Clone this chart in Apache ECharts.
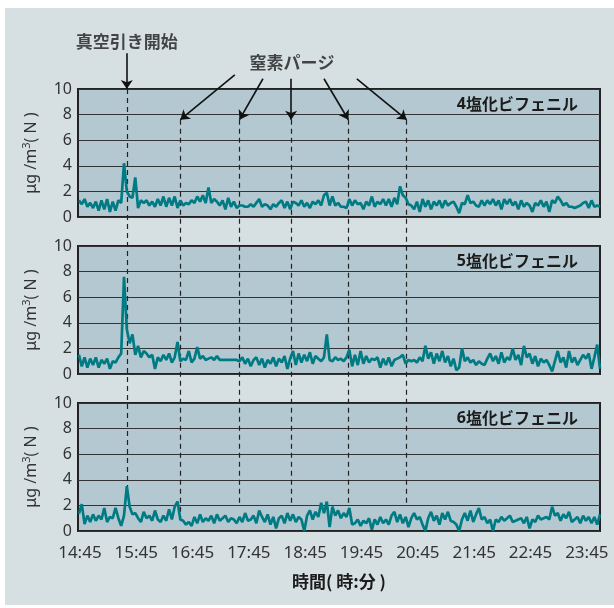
<!DOCTYPE html>
<html>
<head>
<meta charset="utf-8">
<script src="https://cdn.jsdelivr.net/npm/echarts@6/dist/echarts.min.js"></script>
<style>
  html, body { margin: 0; padding: 0; background: #ffffff; }
  #chart { width: 614px; height: 608px; }
</style>
</head>
<body>
<div id="chart"></div>
<script>
// Clock labels on the time axis (one per hour, starting 14:45)
const TICK_LABELS = ['14:45', '15:45', '16:45', '17:45', '18:45', '19:45', '20:45', '21:45', '22:45', '23:45'];

// Samples: minutes after 14:45 of the first reading, and spacing between readings
const SAMPLE_START = -1;
const SAMPLE_STEP = 3;

// Concentrations, μg/m³(N)
const tetraCB = [
  1.3, 1.0, 1.4, 0.8, 1.1, 0.7, 1.2, 0.5, 1.3, 0.6,
  1.4, 0.4, 1.2, 0.5, 1.3, 1.1, 4.2, 2.0, 1.6, 1.5,
  3.1, 0.7, 1.3, 1.1, 1.3, 0.9, 1.2, 0.8, 1.4, 0.9,
  1.6, 0.8, 1.5, 0.9, 1.6, 0.7, 1.3, 0.9, 1.1, 1.0,
  1.3, 1.1, 1.6, 1.2, 1.7, 1.1, 2.3, 1.1, 1.4, 1.2,
  0.9, 1.3, 0.6, 1.5, 0.8, 1.2, 0.7, 0.9, 0.9, 0.8,
  0.8, 1.0, 0.8, 1.1, 1.4, 0.8, 1.0, 0.9, 0.6, 1.0,
  0.8, 1.1, 1.3, 0.7, 1.2, 0.6, 1.2, 1.1, 0.9, 1.3,
  0.8, 1.1, 0.7, 1.2, 1.0, 1.3, 0.9, 1.7, 1.9, 0.9,
  1.6, 0.9, 1.1, 0.8, 0.8, 0.7, 1.4, 0.9, 1.3, 1.0,
  1.1, 0.6, 1.2, 0.9, 1.6, 0.8, 1.2, 1.0, 1.4, 0.9,
  1.4, 0.8, 1.5, 1.0, 2.4, 1.7, 1.5, 1.0, 0.9, 0.6,
  1.2, 0.4, 1.4, 0.8, 1.3, 0.6, 1.2, 0.9, 1.3, 0.7,
  1.3, 0.9, 1.1, 1.2, 0.8, 0.3, 1.1, 1.0, 1.7, 1.1,
  1.2, 0.9, 0.8, 1.3, 0.9, 1.3, 1.0, 1.4, 0.9, 1.3,
  0.6, 1.4, 1.0, 1.4, 0.9, 1.2, 0.6, 1.3, 0.8, 1.1,
  0.9, 0.4, 1.1, 0.9, 1.3, 0.8, 1.2, 0.4, 1.3, 1.1,
  1.6, 1.3, 0.9, 1.1, 0.8, 0.8, 0.7, 0.8, 0.9, 1.1,
  1.2, 0.7, 1.3, 0.8, 0.9, 0.8
];
const pentaCB = [
  1.5, 0.6, 1.3, 0.5, 1.2, 0.7, 1.3, 0.5, 1.1, 0.8,
  1.2, 0.4, 1.0, 0.9, 1.3, 1.6, 7.6, 3.5, 2.4, 3.1,
  1.5, 2.2, 1.3, 1.8, 1.6, 1.3, 1.5, 0.4, 1.3, 1.0,
  1.5, 1.1, 1.6, 0.9, 1.3, 2.5, 1.0, 1.2, 1.1, 1.8,
  0.9, 1.2, 2.1, 1.2, 1.4, 1.1, 1.2, 1.3, 1.1, 1.4,
  1.1, 1.1, 1.1, 1.1, 1.1, 1.1, 1.1, 1.0, 1.3, 0.8,
  1.2, 0.6, 1.1, 1.3, 0.7, 1.2, 0.5, 1.1, 0.8, 1.3,
  0.6, 1.2, 0.9, 1.4, 0.4, 1.2, 1.8, 0.7, 1.6, 0.9,
  1.5, 1.0, 1.7, 0.8, 1.4, 1.2, 1.0, 1.3, 3.1, 1.1,
  1.0, 1.3, 1.1, 1.2, 1.0, 1.3, 1.9, 0.6, 1.5, 0.7,
  1.8, 0.8, 1.4, 0.9, 1.2, 1.1, 1.3, 0.5, 1.2, 0.7,
  1.3, 0.6, 1.1, 1.2, 1.3, 1.5, 0.8, 1.1, 1.0, 1.1,
  0.9, 1.3, 1.0, 2.2, 1.2, 1.7, 0.8, 1.6, 1.0, 1.8,
  0.9, 1.4, 0.6, 1.2, 0.3, 0.5, 2.0, 1.0, 1.3, 0.9,
  1.1, 0.7, 1.0, 0.8, 0.7, 1.2, 1.6, 1.0, 1.4, 0.8,
  1.7, 0.9, 1.3, 1.1, 2.0, 1.1, 1.5, 0.7, 2.2, 1.3,
  1.6, 0.8, 1.4, 0.6, 1.2, 0.9, 1.1, 0.7, 0.2, 1.0,
  1.8, 0.9, 1.3, 0.5, 1.8, 0.9, 1.3, 0.7, 1.1, 1.5,
  1.2, 1.6, 0.4, 1.3, 2.3, 0.4
];
const hexaCB = [
  1.35, 2.1, 0.55, 1.2, 0.7, 1.3, 0.8, 1.2, 0.9, 1.8,
  0.7, 1.1, 1.0, 1.8, 1.0, 0.4, 1.2, 3.5, 1.9, 1.3,
  1.4, 1.0, 0.7, 1.5, 1.0, 1.2, 0.8, 1.6, 0.9, 0.7,
  1.2, 0.8, 1.7, 0.9, 1.9, 2.3, 0.9, 0.8, 0.5, 0.7,
  0.4, 1.1, 0.6, 1.3, 0.7, 1.0, 0.8, 1.2, 0.6, 1.3,
  0.8, 1.0, 1.2, 0.7, 1.0, 0.9, 0.6, 1.1, 0.7, 1.4,
  0.8, 0.9, 1.2, 0.6, 1.6, 1.1, 0.7, 1.3, 0.5, 1.1,
  0.2, 1.0, 1.2, 0.6, 1.4, 0.8, 1.3, 0.7, 1.1, 0.9,
  0.0, 1.2, 1.6, 0.9, 1.5, 1.1, 2.2, 1.4, 2.3, 0.3,
  1.9, 1.2, 1.6, 1.0, 1.4, 1.1, 1.8, 0.5, 0.6, 0.9,
  0.4, 0.8, 0.6, 1.0, 0.1, 0.9, 0.5, 1.1, 0.6, 0.9,
  0.5, 1.2, 1.5, 0.7, 1.3, 0.6, 1.1, 0.3, 1.0, 1.4,
  0.9, 1.1, 0.5, 0.0, 1.0, 1.5, 0.8, 1.2, 0.5, 1.4,
  0.9, 1.5, 0.8, 0.7, 0.5, 0.0, 0.9, 1.4, 0.8, 1.6,
  0.7, 1.3, 1.8, 0.9, 1.1, 0.6, 0.9, 0.0, 0.9, 0.7,
  1.1, 0.8, 1.0, 1.2, 0.7, 0.8, 0.9, 1.0, 0.6, 1.1,
  0.2, 0.9, 0.7, 1.2, 0.9, 1.0, 1.1, 0.9, 1.9, 1.2,
  1.4, 0.8, 1.3, 1.0, 1.5, 0.7, 0.9, 1.1, 0.6, 1.2,
  0.8, 1.1, 0.6, 1.1, 0.5, 1.3
];

const PANEL_SERIES = [tetraCB, pentaCB, hexaCB];
const PANEL_PREFIX = ['4', '5', '6'];
const PANEL_SUFFIX = '塩化ビフェニル';

// Events, minutes after 14:45
const VACUUM_START = 50;
const N2_PURGE = [107, 170, 225, 286, 348];
// Where the event guides stop inside the lowest panel (its value scale)
const VACUUM_GUIDE_END = 3.5;
const N2_GUIDE_END = [1.0, 2.2, 2.2, 2.2, 2.2];

// ---- layout ----
const X_MIN = -2, X_MAX = 554;
const PLOT_LEFT = 78, PLOT_RIGHT = 14;
const PANEL_H = 128, PANEL_GAP = 29, FIRST_TOP = 89;
const panelTops = [0, 1, 2].map(k => FIRST_TOP + k * (PANEL_H + PANEL_GAP));
const plotBottom = panelTops[2] + PANEL_H;
const OVERLAY_TOP = 20;
const unitPx = PANEL_H / 10;
const overlayMax = (plotBottom - OVERLAY_TOP) / unitPx;
// value v of panel k expressed on the full-height overlay scale
const ov = (k, v) => (2 - k) * (PANEL_H + PANEL_GAP) / unitPx + v;

const FONT = "'Noto Sans', 'Noto Sans CJK JP', sans-serif";
const CJK = "'Noto Sans CJK JP', sans-serif";
const INK = '#1c1c1c';

const grids = panelTops.map(top => ({
  left: PLOT_LEFT, right: PLOT_RIGHT, top: top, height: PANEL_H,
  show: true, backgroundColor: '#b3c8d0', borderColor: '#222', borderWidth: 2
}));
grids.push({ left: PLOT_LEFT, right: PLOT_RIGHT, top: OVERLAY_TOP, height: plotBottom - OVERLAY_TOP });

const xAxes = [0, 1, 2].map(k => ({
  gridIndex: k, type: 'value', min: X_MIN, max: X_MAX,
  splitLine: { show: false }, axisLine: { show: false }, axisTick: { show: false },
  axisLabel: k === 2 ? {
    customValues: TICK_LABELS.map((_, j) => j * 60),
    formatter: v => TICK_LABELS[Math.round(v / 60)],
    fontSize: 17, color: '#333', margin: 14, fontFamily: FONT
  } : { show: false },
  name: k === 2 ? '時間( 時:分 )' : '',
  nameLocation: 'middle', nameGap: 42,
  nameTextStyle: { fontSize: 17, fontWeight: 'bold', color: INK, fontFamily: CJK }
}));
xAxes.push({ gridIndex: 3, type: 'value', min: X_MIN, max: X_MAX, show: false });

const yAxes = [0, 1, 2].map(k => ({
  gridIndex: k, type: 'value', min: 0, max: 10, interval: 2,
  splitLine: { show: true, lineStyle: { color: '#333', width: 1 } },
  axisLine: { show: false }, axisTick: { show: false },
  axisLabel: { fontSize: 16, color: '#333', margin: 6, fontFamily: FONT },
  name: '{a|μg /m}{s|3}{a|( N )}', nameLocation: 'middle', nameGap: 37,
  nameTextStyle: {
    fontSize: 16, color: '#333', fontFamily: FONT,
    rich: {
      a: { fontSize: 16, color: '#333', fontFamily: FONT, lineHeight: 20 },
      s: { fontSize: 11, color: '#333', fontFamily: FONT, verticalAlign: 'top', lineHeight: 20 }
    }
  }
}));
yAxes.push({ gridIndex: 3, type: 'value', min: 0, max: overlayMax, show: false });

const traceSeries = PANEL_SERIES.map((vals, k) => ({
  type: 'line', xAxisIndex: k, yAxisIndex: k, z: 5,
  symbol: 'none', silent: true, animation: false,
  lineStyle: { color: '#007b83', width: 2.7, join: 'bevel' },
  data: vals.map((v, i) => [SAMPLE_START + i * SAMPLE_STEP, v])
}));

// dashed guides through all three panels
const guides = [[{ coord: [VACUUM_START, ov(0, 10)] }, { coord: [VACUUM_START, ov(2, VACUUM_GUIDE_END)] }]]
  .concat(N2_PURGE.map((t, j) => [{ coord: [t, ov(0, 7.6)] }, { coord: [t, ov(2, N2_GUIDE_END[j])] }]));

// annotation arrows (start x for the purge arrows fans out from the label)
const PURGE_ARROW_FROM = [165, 195, 225, 260, 295];
const arrows = [[{ coord: [VACUUM_START, ov(0, 12.8)] }, { coord: [VACUUM_START, ov(0, 10)] }]]
  .concat(N2_PURGE.map((t, j) => [
    { coord: [PURGE_ARROW_FROM[j], ov(0, j === 0 ? 11.1 : 10.8)] },
    { coord: [t, ov(0, 7.6)] }
  ]));

const option = {
  animation: false,
  backgroundColor: '#ffffff',
  textStyle: { fontFamily: FONT },
  graphic: [{
    type: 'rect', z: -100, silent: true,
    shape: { x: 5, y: 8, width: 609, height: 597 },
    style: { fill: '#d6e0e3' }
  }],
  title: panelTops.map((top, k) => ({
    text: '{n|' + PANEL_PREFIX[k] + '}{b|' + PANEL_SUFFIX + '}',
    right: 36, top: top + 7, padding: 0,
    textStyle: {
      rich: {
        n: { fontSize: 16, color: INK, fontFamily: FONT },
        b: { fontSize: 16, fontWeight: 'bold', color: INK, fontFamily: CJK }
      }
    }
  })),
  grid: grids,
  xAxis: xAxes,
  yAxis: yAxes,
  series: traceSeries.concat([
    {
      type: 'line', xAxisIndex: 3, yAxisIndex: 3, z: 3, data: [], silent: true,
      markLine: {
        silent: true, animation: false, symbol: ['none', 'none'],
        label: { show: false },
        lineStyle: { type: [5, 4], color: '#222', width: 1.2 },
        emphasis: { disabled: true },
        data: guides
      }
    },
    {
      type: 'line', xAxisIndex: 3, yAxisIndex: 3, z: 6, data: [], silent: true,
      markLine: {
        silent: true, animation: false, symbol: ['none', 'arrow'], symbolSize: 9,
        label: { show: false },
        lineStyle: { type: 'solid', color: '#111', width: 1.6 },
        emphasis: { disabled: true },
        data: arrows
      }
    },
    {
      type: 'scatter', xAxisIndex: 3, yAxisIndex: 3, z: 6, symbolSize: 0, silent: true,
      label: {
        show: true, position: 'inside', formatter: '{b}',
        fontSize: 17, fontWeight: 'bold', color: INK, fontFamily: CJK
      },
      data: [
        { name: '真空引き開始', value: [VACUUM_START, ov(0, 13.67)] },
        { name: '窒素パージ', value: [226, ov(0, 12.03)] }
      ]
    }
  ])
};

const chart = echarts.init(document.getElementById('chart'), null, { renderer: 'canvas' });
chart.setOption(option);
</script>
</body>
</html>
